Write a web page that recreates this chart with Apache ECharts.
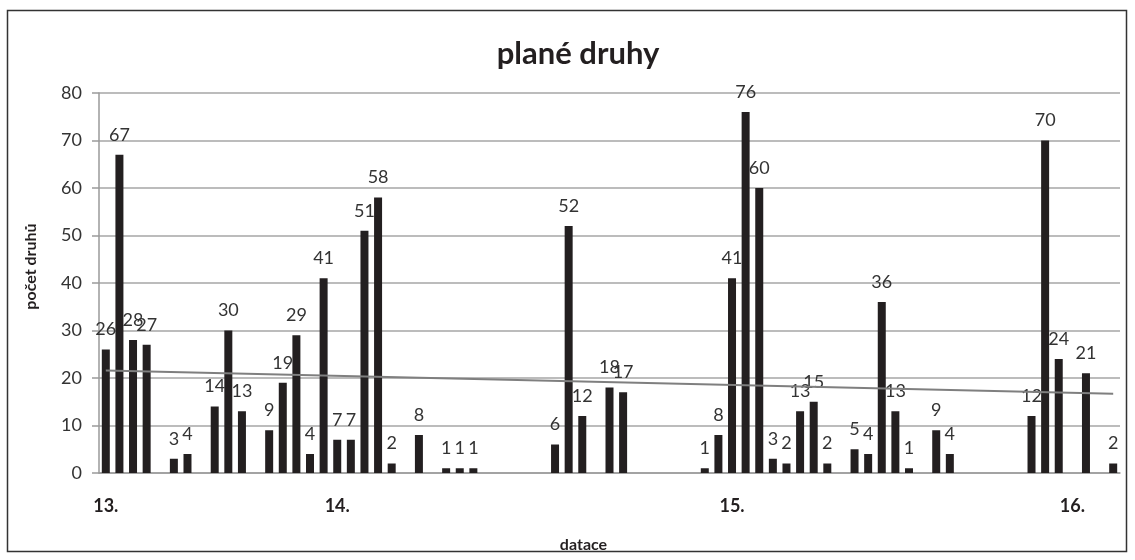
<!DOCTYPE html>
<html>
<head>
<meta charset="utf-8">
<script src="https://cdn.jsdelivr.net/npm/echarts@6/dist/echarts.min.js"></script>
<style>
html,body{margin:0;padding:0;background:#fff;}
#c{width:1135px;height:560px;}
</style>
</head>
<body>
<div id="c"></div>
<script>
// 75 category slots; null = empty slot
const values = [
  26, 67, 28, 27, null, 3, 4, null, 14, 30,
  13, null, 9, 19, 29, 4, 41, 7, 7, 51,
  58, 2, null, 8, null, 1, 1, 1, null, null,
  null, null, null, 6, 52, 12, null, 18, 17, null,
  null, null, null, null, 1, 8, 41, 76, 60, 3,
  2, 13, 15, 2, null, 5, 4, 36, 13, 1,
  null, 9, 4, null, null, null, null, null, 12, 70,
  24, null, 21, null, 2
];
const xTickLabels = ["13.", "14.", "15.", "16."];
const xTickSlots = [0, 17, 46, 71];
const trendEnds = [21.6, 16.7];   // linear trend value at first and last slot
const yTicks = [0, 10, 20, 30, 40, 50, 60, 70, 80];

const categories = values.map((v, i) => {
  const k = xTickSlots.indexOf(i);
  return k >= 0 ? xTickLabels[k] : "";
});
const trend = values.map((v, i) => i === 0 ? trendEnds[0] : (i === values.length - 1 ? trendEnds[1] : null));

const FONT = "Lato, 'Open Sans', sans-serif";
const chart = echarts.init(document.getElementById('c'), null, {renderer: 'canvas'});
chart.setOption({
  animation: false,
  backgroundColor: '#ffffff',
  textStyle: {fontFamily: FONT},
  graphic: [{
    type: 'rect', silent: true, z: -1,
    shape: {x: 7.5, y: 10.5, width: 1119, height: 541},
    style: {fill: 'none', stroke: '#333333', lineWidth: 1.5}
  }],
  title: {
    text: 'plané druhy',
    left: 573, top: 33, textAlign: 'center',
    textStyle: {fontFamily: FONT, fontSize: 31, fontWeight: 'bold', color: '#231f20'}
  },
  grid: {left: 99, right: 15, top: 93, bottom: 87, containLabel: false},
  xAxis: {
    type: 'category',
    data: categories,
    boundaryGap: true,
    name: 'datace',
    nameLocation: 'middle',
    nameGap: 64,
    nameTextStyle: {fontFamily: FONT, fontSize: 16, fontWeight: 'bold', color: '#231f20', padding: [0, 52, 0, 0]},
    axisLine: {lineStyle: {color: '#9a9a9a', width: 1.5}},
    axisTick: {show: false},
    axisLabel: {interval: 0, margin: 24, fontFamily: FONT, fontSize: 18, fontWeight: 'bold', color: '#231f20'},
    splitLine: {show: false}
  },
  yAxis: {
    type: 'value',
    min: yTicks[0], max: yTicks[yTicks.length - 1], interval: yTicks[1] - yTicks[0],
    name: 'počet druhů',
    nameLocation: 'middle',
    nameGap: 60,
    nameTextStyle: {fontFamily: FONT, fontSize: 16, fontWeight: 'bold', color: '#231f20', padding: [0, 0, 0, 33]},
    axisLine: {show: true, lineStyle: {color: '#9a9a9a', width: 1.5}},
    axisTick: {show: true, length: 7, lineStyle: {color: '#9a9a9a', width: 1.5}},
    axisLabel: {margin: 17, fontFamily: FONT, fontSize: 18, color: '#333333'},
    splitLine: {lineStyle: {color: '#a6a6a6', width: 1.5}}
  },
  series: [{
    type: 'bar',
    data: values,
    barWidth: 8,
    itemStyle: {color: '#231f20'},
    label: {show: true, position: 'top', distance: 11, fontFamily: FONT, fontSize: 18, color: '#333333'}
  }, {
    type: 'line',
    data: trend,
    connectNulls: true,
    symbol: 'none',
    lineStyle: {color: '#7f7f7f', width: 2},
    z: 5
  }]
});
</script>
</body>
</html>
